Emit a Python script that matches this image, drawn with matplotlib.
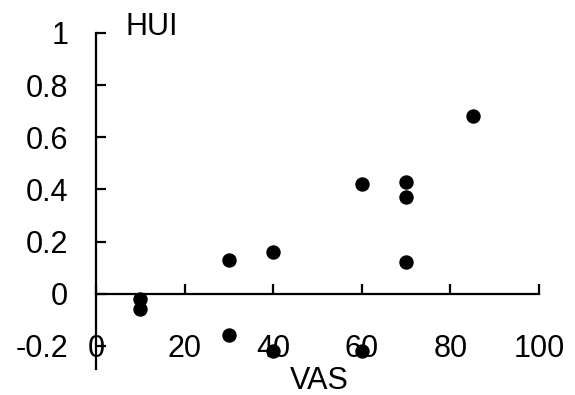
import matplotlib
matplotlib.use('Agg')
import matplotlib.pyplot as plt

# VAS vs HUI scores
vas = [10, 10, 30, 30, 40, 40, 60, 60, 70, 70, 70, 85]
hui = [-0.02, -0.06, 0.13, -0.16, 0.16, -0.22, 0.42, -0.22, 0.43, 0.37, 0.12, 0.68]

x_ticks = [0, 20, 40, 60, 80, 100]
y_ticks = [-0.2, 0, 0.2, 0.4, 0.6, 0.8, 1]
y_labels = ['-0.2', '0', '0.2', '0.4', '0.6', '0.8', '1']

plt.rcParams['font.family'] = ['Liberation Sans', 'DejaVu Sans']

W, H = 575, 395
fig = plt.figure(figsize=(W / 100, H / 100), dpi=100)
# x 0..100 -> px 96..539, y -0.3..1 -> px 372..33 (from top)
ax = fig.add_axes([96 / W, (H - 372) / H, (539 - 96) / W, (372 - 33) / H])
ax.set_xlim(0, 100)
ax.set_ylim(-0.3, 1.0)

ax.scatter(vas, hui, s=88, color='black', zorder=3, clip_on=False)

for s in ['top', 'right']:
    ax.spines[s].set_visible(False)
ax.spines['left'].set_position(('data', 0))
ax.spines['bottom'].set_position(('data', 0))
ax.spines['left'].set_bounds(-0.29, 1)
ax.spines['bottom'].set_bounds(0, 100)
for s in ['left', 'bottom']:
    ax.spines[s].set_linewidth(1.6)

ax.set_xticks(x_ticks)
ax.set_xticklabels([str(t) for t in x_ticks])
ax.set_yticks(y_ticks)
ax.set_yticklabels(y_labels)
ax.tick_params(axis='both', direction='in', length=7.5, width=1.6, labelsize=22)
ax.tick_params(axis='y', pad=20)
ax.tick_params(axis='x', pad=29)

fig.text(125 / W, (H - 35) / H, 'HUI', fontsize=22, va='baseline', ha='left')
fig.text(290 / W, (H - 389) / H, 'VAS', fontsize=22, va='baseline', ha='left')

plt.savefig('out.png', dpi=100)
